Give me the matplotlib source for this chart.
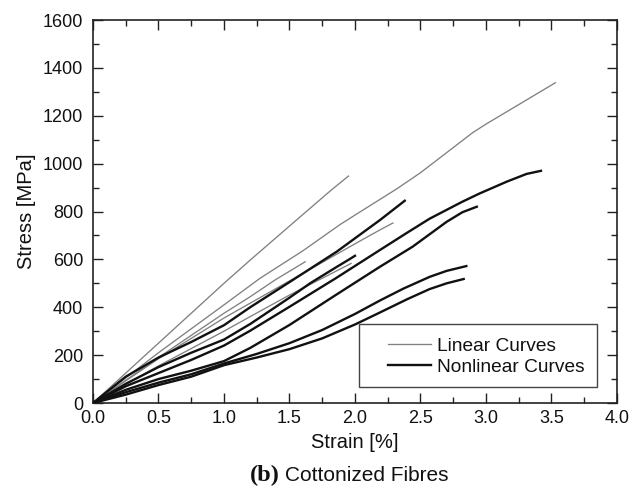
import matplotlib
matplotlib.use("Agg")
import matplotlib.pyplot as plt
from matplotlib.patches import Rectangle

plt.rcParams['font.family'] = ['Liberation Sans', 'DejaVu Sans']

# linear curves (grey) - strain [%], stress [MPa]
lin1_x = [0, 0.25, 0.5, 1.0, 1.2, 1.58, 1.82, 1.95]
lin1_y = [0, 125, 250, 500, 597, 777, 890, 948]
lin2_x = [0, 0.5, 1.0, 1.275, 1.6, 1.885, 2.0, 2.32, 2.5, 2.9, 3.0, 3.53]
lin2_y = [0, 210, 410, 521, 635, 745, 785, 895, 962, 1130, 1165, 1338]
lin3_x = [0, 0.5, 1.0, 1.2, 1.5, 2.0, 2.19, 2.29]
lin3_y = [0, 185, 355, 417, 510, 665, 723, 752]
lin4_x = [0, 0.5, 1.0, 1.2, 1.39, 1.62]
lin4_y = [0, 190, 375, 444, 514, 590]
lin5_x = [0, 0.5, 1.0, 1.2, 1.5, 1.97]
lin5_y = [0, 155, 300, 361, 451, 583]

# nonlinear curves (black)
nl_a_x = [0, 0.25, 0.5, 0.75, 1.0, 1.2, 1.5, 1.86, 2.19, 2.38]
nl_a_y = [0, 110, 190, 255, 325, 400, 505, 632, 764, 845]
nl_b_x = [0, 0.25, 0.5, 0.75, 1.0, 1.2, 1.5, 1.66, 1.85, 1.95, 2.0]
nl_b_y = [0, 80, 150, 210, 265, 330, 440, 501, 565, 598, 615]
nl_c_x = [0, 0.25, 0.5, 0.75, 1.0, 1.2, 1.5, 1.85, 2.19, 2.4, 2.57, 2.82, 2.95, 3.16, 3.31, 3.42]
nl_c_y = [0, 70, 125, 180, 240, 302, 402, 520, 639, 712, 770, 841, 875, 925, 957, 970]
nl_d_x = [0, 0.25, 0.5, 0.75, 1.0, 1.2, 1.5, 1.85, 2.19, 2.44, 2.70, 2.82, 2.93]
nl_d_y = [0, 55, 100, 135, 175, 230, 326, 450, 569, 653, 757, 797, 820]
nl_e_x = [0, 0.25, 0.5, 0.75, 1.0, 1.25, 1.5, 1.75, 2.0, 2.19, 2.37, 2.57, 2.7, 2.85]
nl_e_y = [0, 45, 85, 120, 165, 205, 250, 305, 372, 428, 478, 527, 552, 572]
nl_f_x = [0, 0.25, 0.5, 0.75, 1.0, 1.25, 1.5, 1.75, 2.0, 2.19, 2.4, 2.57, 2.7, 2.83]
nl_f_y = [0, 35, 75, 110, 158, 190, 225, 270, 328, 378, 434, 476, 500, 518]

linear = [(lin1_x, lin1_y), (lin2_x, lin2_y), (lin3_x, lin3_y), (lin4_x, lin4_y), (lin5_x, lin5_y)]
nonlinear = [(nl_a_x, nl_a_y), (nl_b_x, nl_b_y), (nl_c_x, nl_c_y),
             (nl_d_x, nl_d_y), (nl_e_x, nl_e_y), (nl_f_x, nl_f_y)]

fig = plt.figure(figsize=(6.4, 4.94), dpi=100)
ax = fig.add_axes([0.1453, 0.1842, 0.8187, 0.7753])

for i, (x, y) in enumerate(linear):
    ax.plot(x, y, color='#808080', lw=0.95, label='Linear Curves' if i == 0 else None, zorder=2)
for i, (x, y) in enumerate(nonlinear):
    ax.plot(x, y, color='#111111', lw=1.7, label='Nonlinear Curves' if i == 0 else None, zorder=3)

ax.set_xlim(0, 4)
ax.set_ylim(0, 1600)
ax.set_xticks([0, 0.5, 1.0, 1.5, 2.0, 2.5, 3.0, 3.5, 4.0])
ax.set_xticks([0.25 + 0.5 * i for i in range(8)], minor=True)
ax.set_yticks(range(0, 1601, 200))
ax.set_yticks(range(100, 1600, 200), minor=True)
ax.set_xticklabels(['0.0', '0.5', '1.0', '1.5', '2.0', '2.5', '3.0', '3.5', '4.0'])
ax.tick_params(which='both', direction='in', top=True, right=True, width=1.0, colors='#222222',
               labelsize=13, labelcolor='#111111')
ax.tick_params(which='major', length=7)
ax.tick_params(axis='x', which='major', pad=5)
ax.tick_params(axis='y', which='major', pad=7)
ax.tick_params(which='minor', length=4)
for s in ax.spines.values():
    s.set_linewidth(1.2)
    s.set_color('#222222')

ax.set_xlabel('Strain [%]', fontsize=14.5, color='#111111', labelpad=4)
ax.set_ylabel('Stress [MPa]', fontsize=14.5, color='#111111', labelpad=5)

# legend box drawn by hand, entries placed inside it
ax.add_patch(Rectangle((0.508, 0.042), 0.454, 0.164, transform=ax.transAxes, fill=False,
                       edgecolor='#444444', lw=1.0, zorder=5))
leg = ax.legend(loc='lower left', bbox_to_anchor=(0.544, 0.045), frameon=False, fontsize=13.8,
                borderpad=0, handlelength=2.25, handletextpad=0.35, labelspacing=0.2)
for t in leg.get_texts():
    t.set_color('#111111')

fig.text(0.437, 0.027, '(b)', fontsize=17.5, fontweight='bold', family='Liberation Serif',
         ha='right', va='baseline', color='#111111')
fig.text(0.446, 0.027, 'Cottonized Fibres', fontsize=15, ha='left', va='baseline', color='#111111')

fig.savefig('out.png', dpi=100)
